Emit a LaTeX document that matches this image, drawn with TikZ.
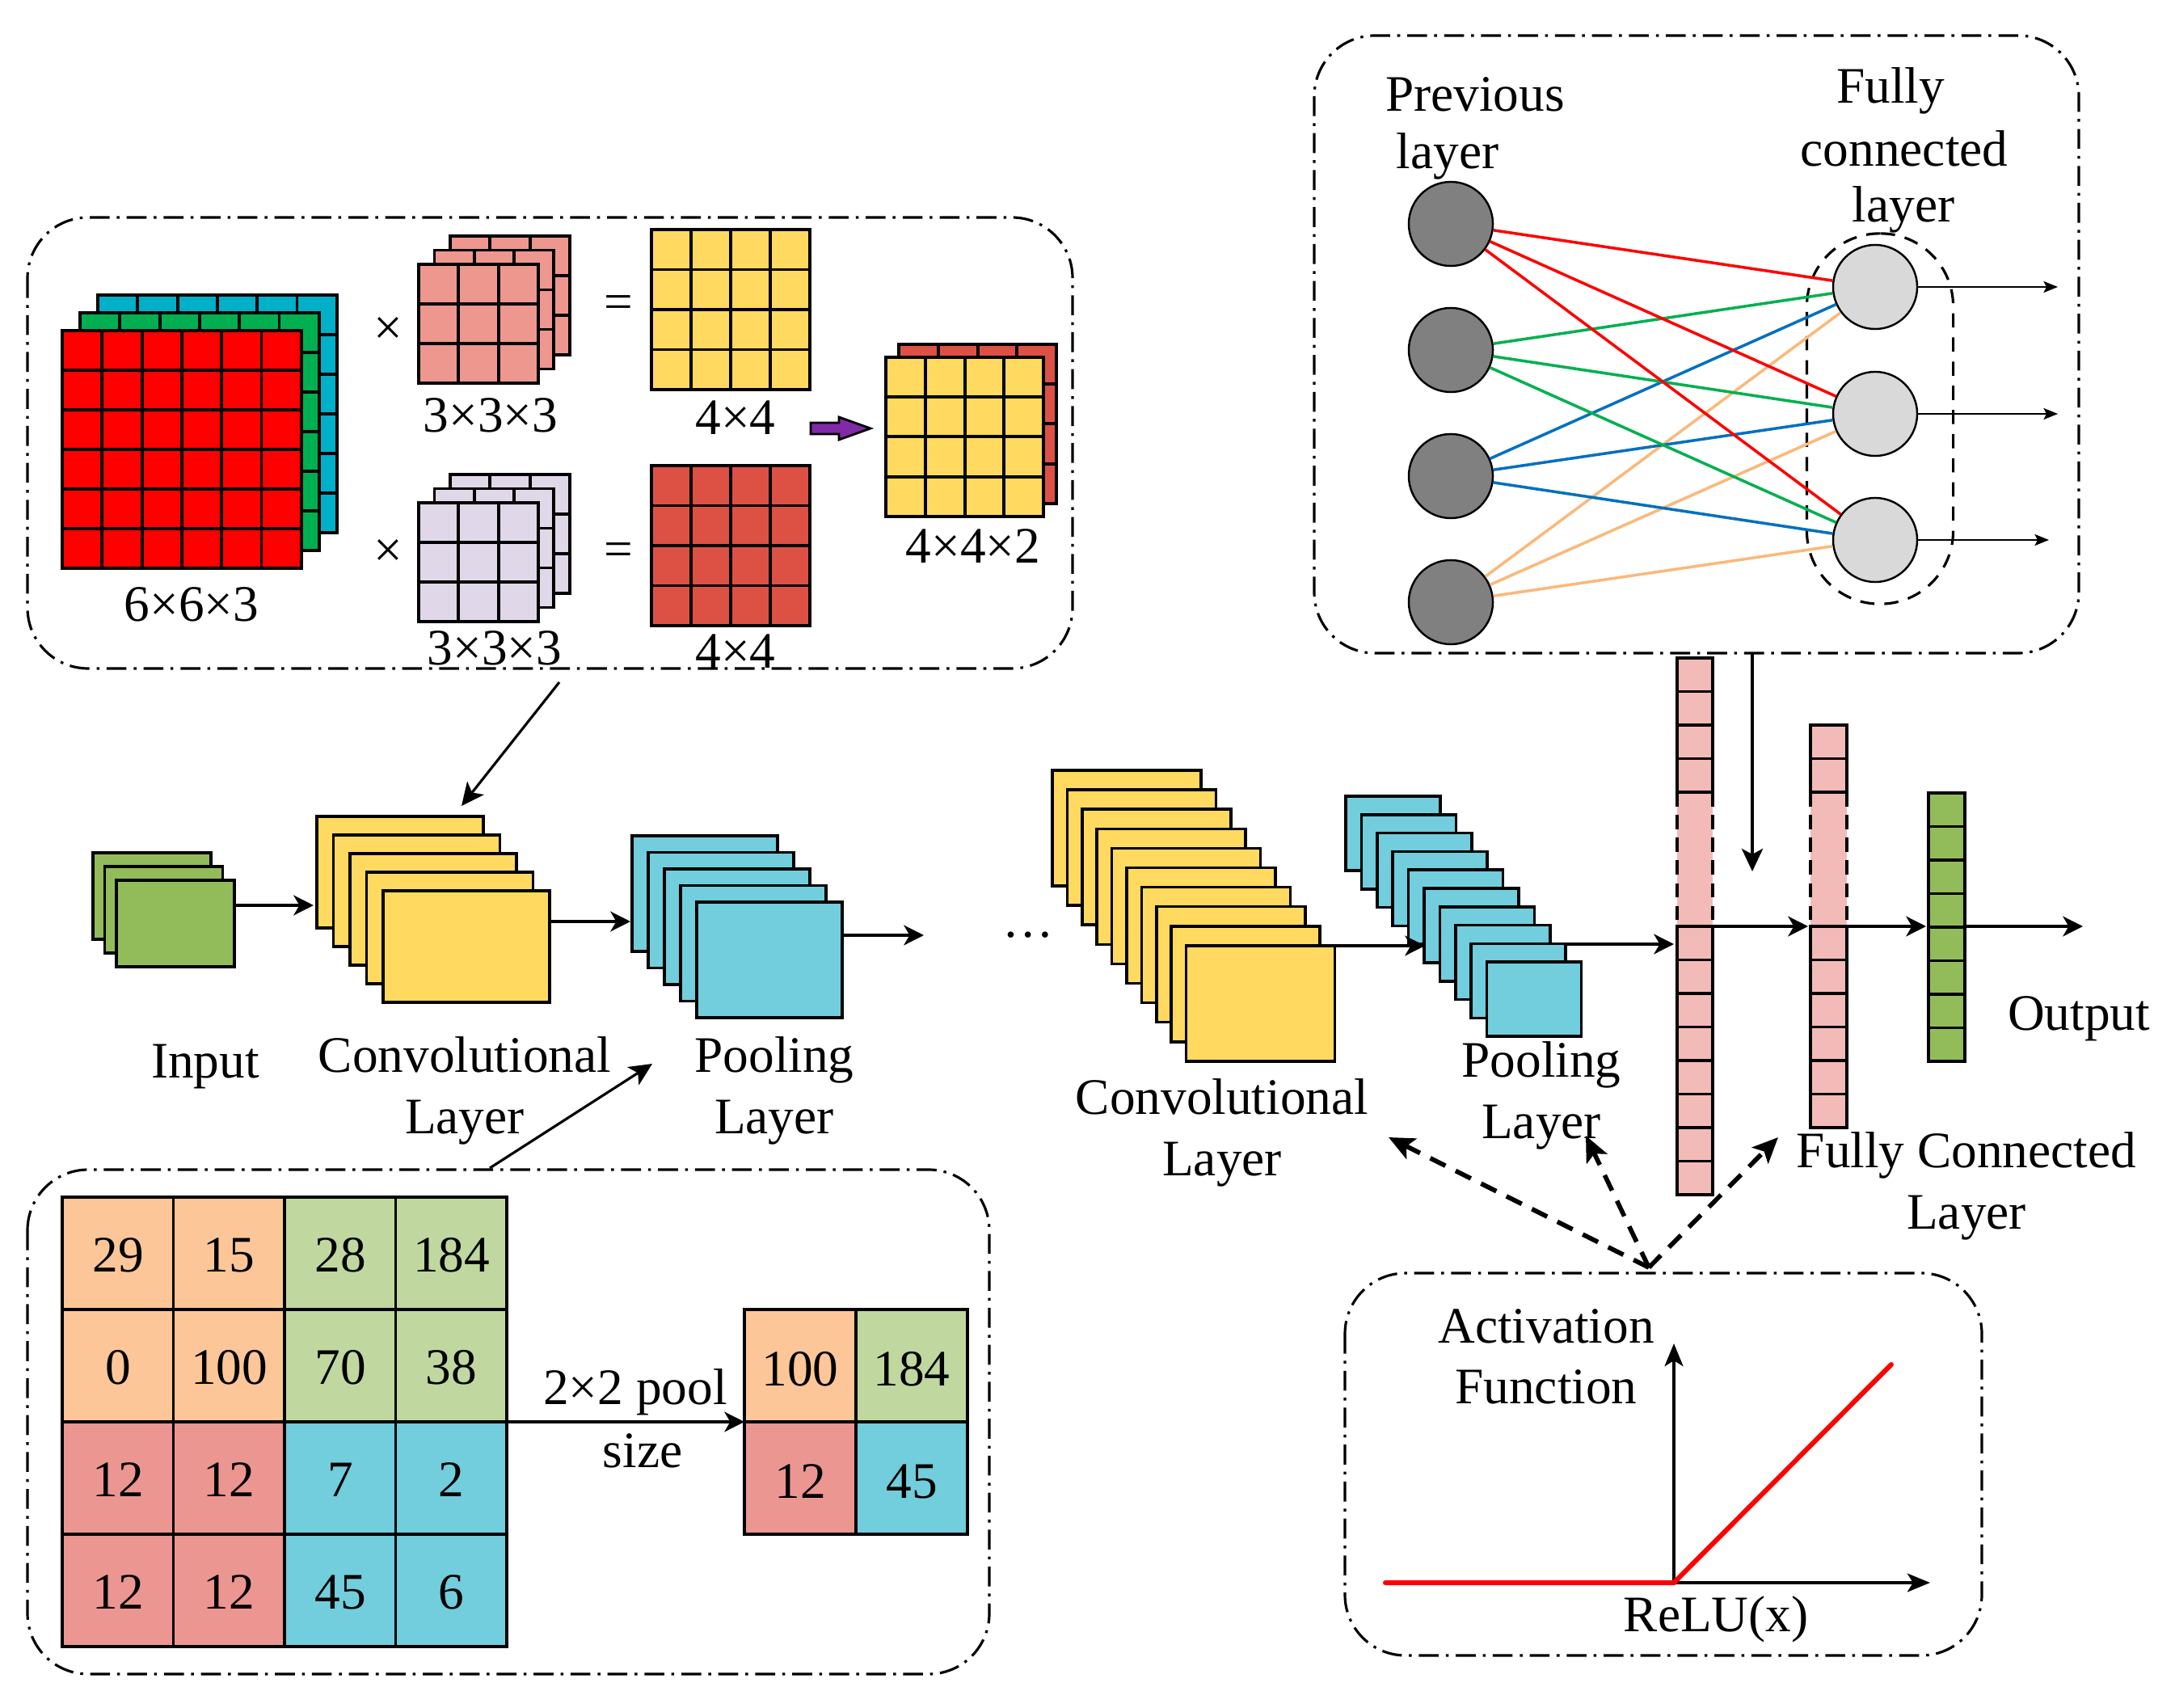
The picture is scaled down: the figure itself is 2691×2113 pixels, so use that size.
\documentclass[tikz,border=0pt]{standalone}
\usepackage{fontspec}
\setmainfont{Liberation Serif}
\usetikzlibrary{arrows.meta}
\definecolor{cred}{RGB}{255,0,0}
\definecolor{cgreen}{RGB}{0,176,80}
\definecolor{ccyan}{RGB}{0,176,200}
\definecolor{kpink}{RGB}{237,151,143}
\definecolor{klav}{RGB}{224,215,232}
\definecolor{yel}{RGB}{255,217,96}
\definecolor{dred}{RGB}{221,81,69}
\definecolor{purp}{RGB}{128,42,168}
\definecolor{ingreen}{RGB}{146,188,89}
\definecolor{poolb}{RGB}{114,205,220}
\definecolor{fcpink}{RGB}{243,187,183}
\definecolor{peach}{RGB}{252,198,152}
\definecolor{lgreen}{RGB}{192,216,160}
\definecolor{salmon}{RGB}{236,150,145}
\definecolor{netdark}{RGB}{128,128,128}
\definecolor{netlight}{RGB}{217,217,217}
\definecolor{lblue}{RGB}{0,112,192}
\definecolor{lorange}{RGB}{250,185,122}
\begin{document}
\begin{tikzpicture}[x=0.01cm,y=-0.01cm,font=\fontsize{18}{21.6}\selectfont]
\tikzset{
 gridl/.style={draw=black,line width=1.1pt},
 stk/.style={draw=black,line width=1pt},
 flow/.style={line width=1.2pt,-{Stealth[length=7pt,width=7pt,inset=2pt]}},
 thinflow/.style={line width=0.9pt,-{Stealth[length=8pt,width=7.5pt,inset=2pt]}},
 netarrow/.style={line width=0.6pt,-{Stealth[length=5pt,width=4pt,inset=1pt]}},
 dasharrow/.style={line width=1.6pt,dash pattern=on 6pt off 4pt,-{Stealth[length=9pt,width=8pt,inset=2pt]}},
 boxdd/.style={line width=0.9pt,dash pattern=on 7pt off 2.5pt on 1pt off 2.5pt,rounded corners=0.75cm},
 lbl/.style={inner sep=0pt,align=center},
 darkn/.style={circle,draw=black,line width=0.7pt,fill=netdark,minimum size=1.04cm,inner sep=0pt},
 lightn/.style={circle,draw=black,line width=0.7pt,fill=netlight,minimum size=1.04cm,inner sep=0pt},
 fcgroup/.style={draw=black,line width=0.9pt,dash pattern=on 5pt off 3.5pt,rounded corners=0.9cm,minimum width=1.81cm,minimum height=4.58cm,inner sep=0pt},
 nline/.style={line width=1pt},
}
\newcommand{\cellgrid}[7]{%
 \foreach \ii in {1,...,#3}{\foreach \jj in {1,...,#4}{%
  \draw[gridl,fill=#7] ({#1+(\ii-1)*#5},{#2+(\jj-1)*#6}) rectangle ++(#5,#6);}}}
\useasboundingbox (0,0) rectangle (2691,2113);
\fill[white] (0,0) rectangle (2691,2113);

% ===== Top-left convolution box =====
\draw[boxdd] (34,269) rectangle (1327,827);
\cellgrid{121}{365}{6}{6}{49.3}{49}{ccyan}
\cellgrid{99}{387}{6}{6}{49.3}{49}{cgreen}
\cellgrid{77}{409}{6}{6}{49.3}{49}{cred}
\node[lbl] (l663) at (237,748) {6×6×3};
\node[lbl] (x1) at (480,410) {×};
\node[lbl] (x2) at (480,685) {×};
\cellgrid{557}{292}{3}{3}{49.3}{49}{kpink}
\cellgrid{537.5}{309.5}{3}{3}{49.3}{49}{kpink}
\cellgrid{518}{327}{3}{3}{49.3}{49}{kpink}
\cellgrid{557}{587}{3}{3}{49.3}{49}{klav}
\cellgrid{537.5}{604.5}{3}{3}{49.3}{49}{klav}
\cellgrid{518}{622}{3}{3}{49.3}{49}{klav}
\node[lbl] (k1) at (607,514) {3×3×3};
\node[lbl] (k2) at (612,802) {3×3×3};
\node[lbl] (e1) at (765,380) {=};
\node[lbl] (e2) at (765,686) {=};
\cellgrid{806}{284}{4}{4}{49}{49.5}{yel}
\cellgrid{806}{576}{4}{4}{49}{49.5}{dred}
\node[lbl] (s1) at (910,517) {4×4};
\node[lbl] (s2) at (910,806) {4×4};
\draw[line width=0.8pt,fill=purp] (1003,523) -- (1038,523) -- (1038,516) -- (1077,530) -- (1038,544) -- (1038,537) -- (1003,537) -- cycle;
\cellgrid{1112}{426}{4}{4}{48.8}{49.2}{dred}
\cellgrid{1096}{442}{4}{4}{48.8}{49.2}{yel}
\node[lbl] (s3) at (1204,676) {4×4×2};

% ===== Top-right fully connected box =====
\draw[boxdd] (1626,44) rectangle (2572,808);
\node[fcgroup] (fcg) at (2326,518) {};
\foreach \k/\y in {1/277,2/433,3/589,4/745} \node[darkn] (p\k) at (1795,\y) {};
\foreach \k/\y in {1/355,2/512,3/668} \node[lightn] (f\k) at (2320,\y) {};
\foreach \j in {1,2,3} {
 \draw[nline,cred] (p1) -- (f\j);
 \draw[nline,cgreen] (p2) -- (f\j);
 \draw[nline,lblue] (p3) -- (f\j);
 \draw[nline,lorange] (p4) -- (f\j);
}
\coordinate (o1) at (2546,355);
\coordinate (o2) at (2546,512);
\coordinate (o3) at (2535,668);
\draw[netarrow] (f1.east) -- (o1);
\draw[netarrow] (f2.east) -- (o2);
\draw[netarrow] (f3.east) -- (o3);
\node[lbl] (tprev) at (1825,117) {Previous};
\node[lbl] (tlay) at (1791,193) {layer};
\node[lbl] (tfully) at (2339,112) {Fully};
\node[lbl] (tconn) at (2356,184) {connected};
\node[lbl] (tlay2) at (2355,259) {layer};

% ===== Middle row, left =====
\foreach \k in {0,1,2} \draw[stk,fill=ingreen] ({115+14.5*\k},{1055+17*\k}) rectangle ++(146,107);
\foreach \k in {0,...,4} \draw[stk,fill=yel] ({392+20.5*\k},{1010+23*\k}) rectangle ++(206,138);
\foreach \k in {0,...,4} \draw[stk,fill=poolb] ({782+20*\k},{1034+20.5*\k}) rectangle ++(180,143);
\coordinate (in-out) at (290,1120);
\coordinate (cv-in) at (388,1120);
\coordinate (cv-out) at (680,1140);
\coordinate (pl-in) at (780,1140);
\coordinate (pl-out) at (1041,1157);
\coordinate (pl-next) at (1143,1157);
\draw[flow] (in-out) -- (cv-in);
\draw[flow] (cv-out) -- (pl-in);
\draw[flow] (pl-out) -- (pl-next);
\node[lbl] (tinput) at (254,1320) {Input};
\node[lbl] (tconv) at (575,1349) {Convolutional\\Layer};
\node[lbl] (tpool) at (958,1349) {Pooling\\Layer};
\node[lbl] (dots) at (1272,1157) {…};
\coordinate (boxA-out) at (692,844);
\coordinate (convA-in) at (571,997);
\draw[thinflow] (boxA-out) -- (convA-in);
\coordinate (boxB-out) at (606,1445);
\coordinate (poolA-in) at (807,1316);
\draw[thinflow] (boxB-out) -- (poolA-in);

% ===== Middle row, right =====
\foreach \k in {0,...,9} \draw[stk,fill=yel] ({1302+18.4*\k},{953+24.1*\k}) rectangle ++(184,143);
\foreach \k in {0,...,9} \draw[stk,fill=poolb] ({1665+19.4*\k},{985+22.8*\k}) rectangle ++(117,92);
\coordinate (cv2-out) at (1652,1170);
\coordinate (pl2-in) at (1763,1170);
\draw[flow] (cv2-out) -- (pl2-in);
\coordinate (pl2-out) at (1937,1168);
\coordinate (fc1-in) at (2071,1168);
\draw[flow] (pl2-out) -- (fc1-in);
% FC column 1
\fill[fcpink] (2075,980) rectangle (2119,1146);
\foreach \k in {0,...,3} \draw[gridl,fill=fcpink] (2075,{814+41.5*\k}) rectangle ++(44,41.5);
\foreach \k in {0,...,7} \draw[gridl,fill=fcpink] (2075,{1146+41.5*\k}) rectangle ++(44,41.5);
\draw[line width=1.1pt,dash pattern=on 5pt off 3pt] (2075,980) -- (2075,1146);
\draw[line width=1.1pt,dash pattern=on 5pt off 3pt] (2119,980) -- (2119,1146);
% FC column 2
\fill[fcpink] (2240,980) rectangle (2285,1146);
\foreach \k in {0,1} \draw[gridl,fill=fcpink] (2240,{897+41.5*\k}) rectangle ++(45,41.5);
\foreach \k in {0,...,5} \draw[gridl,fill=fcpink] (2240,{1146+41.5*\k}) rectangle ++(45,41.5);
\draw[line width=1.1pt,dash pattern=on 5pt off 3pt] (2240,980) -- (2240,1146);
\draw[line width=1.1pt,dash pattern=on 5pt off 3pt] (2285,980) -- (2285,1146);
% output column
\foreach \k in {0,...,7} \draw[gridl,fill=ingreen] (2386,{981+41.5*\k}) rectangle ++(45,41.5);
\coordinate (fc1-out) at (2119,1146);
\coordinate (fc2-in) at (2237,1146);
\coordinate (fc2-out) at (2285,1146);
\coordinate (og-in) at (2383,1146);
\coordinate (og-out) at (2431,1146);
\coordinate (final) at (2577,1146);
\draw[flow] (fc1-out) -- (fc2-in);
\draw[flow] (fc2-out) -- (og-in);
\draw[flow] (og-out) -- (final);
\coordinate (boxC-out) at (2168,808);
\coordinate (fc-down) at (2168,1078);
\draw[thinflow] (boxC-out) -- (fc-down);
\node[lbl] (tconv2) at (1512,1401) {Convolutional\\Layer};
\node[lbl] (tpool2) at (1907,1355) {Pooling\\Layer};
\node[lbl] (tfc) at (2433,1467) {Fully Connected\\Layer};
\node[lbl] (tout) at (2572,1260) {Output};

% ===== Bottom-left pooling box =====
\draw[boxdd] (34,1447) rectangle (1224,2071);
\foreach \i in {0,1} \foreach \j in {0,1} {
 \draw[gridl,fill=peach] ({77+137.5*\i},{1481+139*\j}) rectangle ++(137.5,139);
 \draw[gridl,fill=lgreen] ({352+137.5*\i},{1481+139*\j}) rectangle ++(137.5,139);
 \draw[gridl,fill=salmon] ({77+137.5*\i},{1759+139*\j}) rectangle ++(137.5,139);
 \draw[gridl,fill=poolb] ({352+137.5*\i},{1759+139*\j}) rectangle ++(137.5,139);
}
\foreach \v [count=\i from 0] in {29,15,28,184} \node[lbl] (ga\i) at ({146+137.5*\i},1553) {\v};
\foreach \v [count=\i from 0] in {0,100,70,38} \node[lbl] (gb\i) at ({146+137.5*\i},1692) {\v};
\foreach \v [count=\i from 0] in {12,12,7,2} \node[lbl] (gc\i) at ({146+137.5*\i},1831) {\v};
\foreach \v [count=\i from 0] in {12,12,45,6} \node[lbl] (gd\i) at ({146+137.5*\i},1970) {\v};
\draw[gridl,fill=peach] (921,1620) rectangle ++(138,139);
\draw[gridl,fill=lgreen] (1059,1620) rectangle ++(138,139);
\draw[gridl,fill=salmon] (921,1759) rectangle ++(138,139);
\draw[gridl,fill=poolb] (1059,1759) rectangle ++(138,139);
\node[lbl] (pa) at (990,1694) {100};
\node[lbl] (pb) at (1128,1694) {184};
\node[lbl] (pc) at (990,1833) {12};
\node[lbl] (pd) at (1128,1833) {45};
\coordinate (grid-out) at (628,1759);
\coordinate (pgrid-in) at (921,1759);
\draw[flow] (grid-out) -- (pgrid-in);
\node[lbl] (tpool22) at (786,1722) {2×2 pool};
\node[lbl] (tsize) at (795,1795) {size};

% ===== Activation box =====
\draw[boxdd] (1664,1575) rectangle (2452,2048);
\coordinate (origin) at (2071,1958);
\coordinate (yend) at (2071,1662);
\coordinate (xend) at (2388,1958);
\draw[line width=1.1pt,-{Stealth[length=8pt,width=6.5pt,inset=2pt]}] (origin) -- (yend);
\draw[line width=1.1pt,-{Stealth[length=8pt,width=6.5pt,inset=2pt]}] (origin) -- (xend);
\coordinate (rstart) at (1714,1958);
\coordinate (rend) at (2340,1688);
\draw[cred,line width=1.7pt,line cap=round] (rstart) -- (origin) -- (rend);
\node[lbl] (tact) at (1913,1641) {Activation};
\node[lbl] (tfun) at (1913,1716) {Function};
\node[lbl] (trelu) at (2123,2003) {ReLU(x)};
\coordinate (act-top) at (2040,1568);
\coordinate (to-conv) at (1718,1407);
\coordinate (to-pool) at (1962,1405);
\coordinate (to-fc) at (2200,1407);
\draw[dasharrow] (act-top) -- (to-conv);
\draw[dasharrow] (act-top) -- (to-pool);
\draw[dasharrow] (act-top) -- (to-fc);
\end{tikzpicture}
\end{document}
